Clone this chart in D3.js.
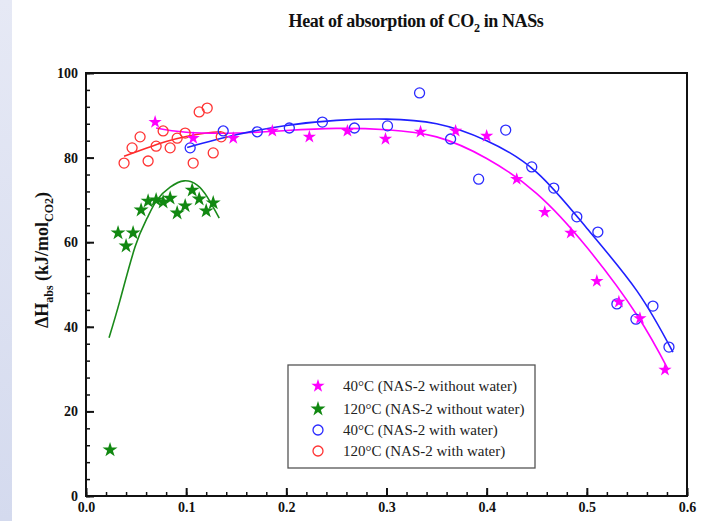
<!DOCTYPE html>
<html>
<head>
<meta charset="utf-8">
<script src="https://cdn.jsdelivr.net/npm/d3@7"></script>
<style>
  html, body { margin: 0; padding: 0; background: #fff; }
  svg { display: block; }
  text { font-family: "Liberation Serif", "Times New Roman", serif; }
</style>
</head>
<body>
<svg id="chart" width="707" height="521"></svg>
<script>
// Loading (x) vs heat of absorption (kJ/mol CO2)
const mag40X = [0.069, 0.107, 0.147, 0.186, 0.223, 0.261, 0.299, 0.334, 0.369, 0.400, 0.430, 0.458, 0.484, 0.510, 0.532, 0.553, 0.578];
const mag40Y = [88.4, 84.6, 84.6, 86.3, 84.9, 86.3, 84.4, 86.1, 86.3, 85.1, 74.9, 67.1, 62.2, 50.8, 45.9, 42.0, 29.8];

const grn120X = [0.024, 0.032, 0.040, 0.047, 0.055, 0.062, 0.070, 0.077, 0.084, 0.091, 0.099, 0.106, 0.113, 0.120, 0.127];
const grn120Y = [10.9, 62.2, 59.1, 62.2, 67.6, 69.7, 70.0, 69.5, 70.4, 66.9, 68.6, 72.3, 70.2, 67.4, 69.3];

const blu40X = [0.104, 0.137, 0.171, 0.203, 0.236, 0.268, 0.301, 0.333, 0.364, 0.392, 0.419, 0.445, 0.467, 0.490, 0.511, 0.530, 0.549, 0.566, 0.582];
const blu40Y = [82.3, 86.3, 86.1, 87.0, 88.4, 87.0, 87.5, 95.3, 84.4, 74.9, 86.5, 77.8, 72.8, 66.0, 62.4, 45.4, 41.8, 44.9, 35.2];

const red120X = [0.038, 0.046, 0.054, 0.062, 0.070, 0.077, 0.084, 0.091, 0.099, 0.107, 0.113, 0.121, 0.127, 0.135];
const red120Y = [78.7, 82.3, 84.9, 79.2, 82.7, 86.3, 82.3, 84.6, 85.8, 78.7, 90.8, 91.7, 81.1, 84.9];

// Fitted trend curves
const mag40FitX = [0.070, 0.100, 0.150, 0.200, 0.250, 0.300, 0.350, 0.400, 0.450, 0.500, 0.550, 0.581];
const mag40FitY = [87.0, 86.0, 85.8, 86.4, 86.9, 86.6, 84.9, 79.8, 71.5, 58.8, 42.8, 30.0];

const grn120FitX = [0.023, 0.034, 0.049, 0.061, 0.071, 0.084, 0.098, 0.111, 0.121, 0.133];
const grn120FitY = [37.4, 46.3, 58.9, 65.7, 70.0, 73.0, 74.5, 73.5, 70.7, 65.7];

const blu40FitX = [0.101, 0.150, 0.200, 0.250, 0.300, 0.350, 0.400, 0.450, 0.500, 0.550, 0.586];
const blu40FitY = [82.4, 85.4, 87.6, 88.8, 89.1, 88.0, 84.0, 76.5, 63.3, 48.5, 34.0];

const red120FitX = [0.038, 0.060, 0.080, 0.100, 0.120, 0.135];
const red120FitY = [80.3, 82.2, 83.8, 85.0, 85.8, 86.1];

const xTicks = [0.0, 0.1, 0.2, 0.3, 0.4, 0.5, 0.6];
const yTicks = [0, 20, 40, 60, 80, 100];
const legendLabels = [
  "40°C (NAS-2 without water)",
  "120°C (NAS-2 without water)",
  "40°C (NAS-2 with water)",
  "120°C (NAS-2 with water)"
];

const svg = d3.select("#chart");
const W = 707, H = 521;

// soft bluish strip along the left edge
const defs = svg.append("defs");
const grad = defs.append("linearGradient").attr("id", "edge").attr("x1", 0).attr("x2", 0).attr("y1", 0).attr("y2", 1);
grad.append("stop").attr("offset", "0%").attr("stop-color", "#e6e9f5");
grad.append("stop").attr("offset", "100%").attr("stop-color", "#d4daee");
svg.append("rect").attr("x", 0).attr("y", 0).attr("width", 12).attr("height", H).attr("fill", "url(#edge)");

const m = { left: 86, top: 73, right: 687, bottom: 496 };
const x = d3.scaleLinear().domain([0, 0.6]).range([m.left, m.right]);
const y = d3.scaleLinear().domain([0, 100]).range([m.bottom, m.top]);

// title
const title = svg.append("text").attr("x", 416).attr("y", 27).attr("text-anchor", "middle")
  .attr("font-size", 18).attr("font-weight", "bold").attr("fill", "#111").attr("letter-spacing", -0.4);
title.append("tspan").text("Heat of absorption of CO");
title.append("tspan").attr("font-size", 12).attr("dy", 5).text("2");
title.append("tspan").attr("dy", -5).text(" in NASs");

// axes with inward ticks
const gx = svg.append("g").attr("transform", `translate(0,${m.bottom})`);
gx.call(d3.axisBottom(x).tickValues(d3.range(0, 0.6001, 0.02)).tickSize(-4).tickFormat(""));
gx.selectAll(".tick line").attr("stroke", "#111").attr("stroke-width", 1.5);
const gxMaj = svg.append("g").attr("transform", `translate(0,${m.bottom})`);
gxMaj.call(d3.axisBottom(x).tickValues(xTicks).tickSize(-8).tickPadding(6).tickFormat(d3.format(".1f")));
gxMaj.selectAll(".tick line").attr("stroke", "#111").attr("stroke-width", 2);
gxMaj.selectAll("text").attr("font-size", 14).attr("font-weight", "bold").attr("fill", "#111")
  .attr("font-family", "Liberation Serif, serif");
svg.selectAll(".domain").remove();

const gy = svg.append("g").attr("transform", `translate(${m.left},0)`);
gy.call(d3.axisLeft(y).tickValues(d3.range(0, 100.01, 4)).tickSize(-4).tickFormat(""));
gy.selectAll(".tick line").attr("stroke", "#111").attr("stroke-width", 1.5);
const gyMaj = svg.append("g").attr("transform", `translate(${m.left},0)`);
gyMaj.call(d3.axisLeft(y).tickValues(yTicks).tickSize(-8).tickPadding(8).tickFormat(d3.format("d")));
gyMaj.selectAll(".tick line").attr("stroke", "#111").attr("stroke-width", 2);
gyMaj.selectAll("text").attr("font-size", 14).attr("font-weight", "bold").attr("fill", "#111")
  .attr("font-family", "Liberation Serif, serif");
svg.selectAll(".domain").remove();

// frame
svg.append("rect").attr("x", m.left).attr("y", m.top).attr("width", m.right - m.left).attr("height", m.bottom - m.top)
  .attr("fill", "none").attr("stroke", "#111").attr("stroke-width", 2);

// y-axis title
const yl = svg.append("text").attr("transform", "translate(48,260) rotate(-90)").attr("text-anchor", "middle")
  .attr("font-size", 18).attr("font-weight", "bold").attr("fill", "#111");
yl.append("tspan").text("ΔH");
yl.append("tspan").attr("font-size", 12).attr("dy", 5).text("abs");
yl.append("tspan").attr("dy", -5).text(" (kJ/mol");
yl.append("tspan").attr("font-size", 12).attr("dy", 5).text("CO2");
yl.append("tspan").attr("dy", -5).text(")");

// fitted curves
const line = d3.line().x(d => x(d[0])).y(d => y(d[1])).curve(d3.curveNatural);
const fits = [
  { xs: red120FitX, ys: red120FitY, color: "#ff2a2a" },
  { xs: grn120FitX, ys: grn120FitY, color: "#1a8a1a" },
  { xs: mag40FitX, ys: mag40FitY, color: "#ff00ff" },
  { xs: blu40FitX, ys: blu40FitY, color: "#1f1fff" }
];
fits.forEach(f => {
  svg.append("path").datum(d3.zip(f.xs, f.ys)).attr("d", line)
    .attr("fill", "none").attr("stroke", f.color).attr("stroke-width", 1.6);
});

// markers
const star = (s) => d3.symbol().type(d3.symbolStar).size(s)();
function drawStars(xs, ys, color, size) {
  svg.append("g").selectAll("path").data(d3.zip(xs, ys)).join("path")
    .attr("transform", d => `translate(${x(d[0])},${y(d[1])})`)
    .attr("d", star(size)).attr("fill", color);
}
function drawCircles(xs, ys, color) {
  svg.append("g").selectAll("circle").data(d3.zip(xs, ys)).join("circle")
    .attr("cx", d => x(d[0])).attr("cy", d => y(d[1])).attr("r", 5)
    .attr("fill", "none").attr("stroke", color).attr("stroke-width", 1.3);
}
drawCircles(red120X, red120Y, "#ff3333");
drawCircles(blu40X, blu40Y, "#2a2aff");
drawStars(grn120X, grn120Y, "#118811", 70);
drawStars(mag40X, mag40Y, "#ff00ff", 55);

// legend
const lg = svg.append("g");
lg.append("rect").attr("x", 288).attr("y", 365).attr("width", 247).attr("height", 103)
  .attr("fill", "#fff").attr("stroke", "#555").attr("stroke-width", 1.3);
const rowsY = [386, 409, 430, 451];
const legendMarks = [
  { kind: "star", color: "#ff00ff", size: 55 },
  { kind: "star", color: "#118811", size: 70 },
  { kind: "circle", color: "#2a2aff" },
  { kind: "circle", color: "#ff3333" }
];
legendMarks.forEach((mk, i) => {
  if (mk.kind === "star") {
    lg.append("path").attr("transform", `translate(318,${rowsY[i]})`).attr("d", star(mk.size)).attr("fill", mk.color);
  } else {
    lg.append("circle").attr("cx", 318).attr("cy", rowsY[i]).attr("r", 5)
      .attr("fill", "none").attr("stroke", mk.color).attr("stroke-width", 1.3);
  }
  lg.append("text").attr("x", 343).attr("y", rowsY[i] + 5).attr("font-size", 15).attr("fill", "#222")
    .text(legendLabels[i]);
});
</script>
</body>
</html>
